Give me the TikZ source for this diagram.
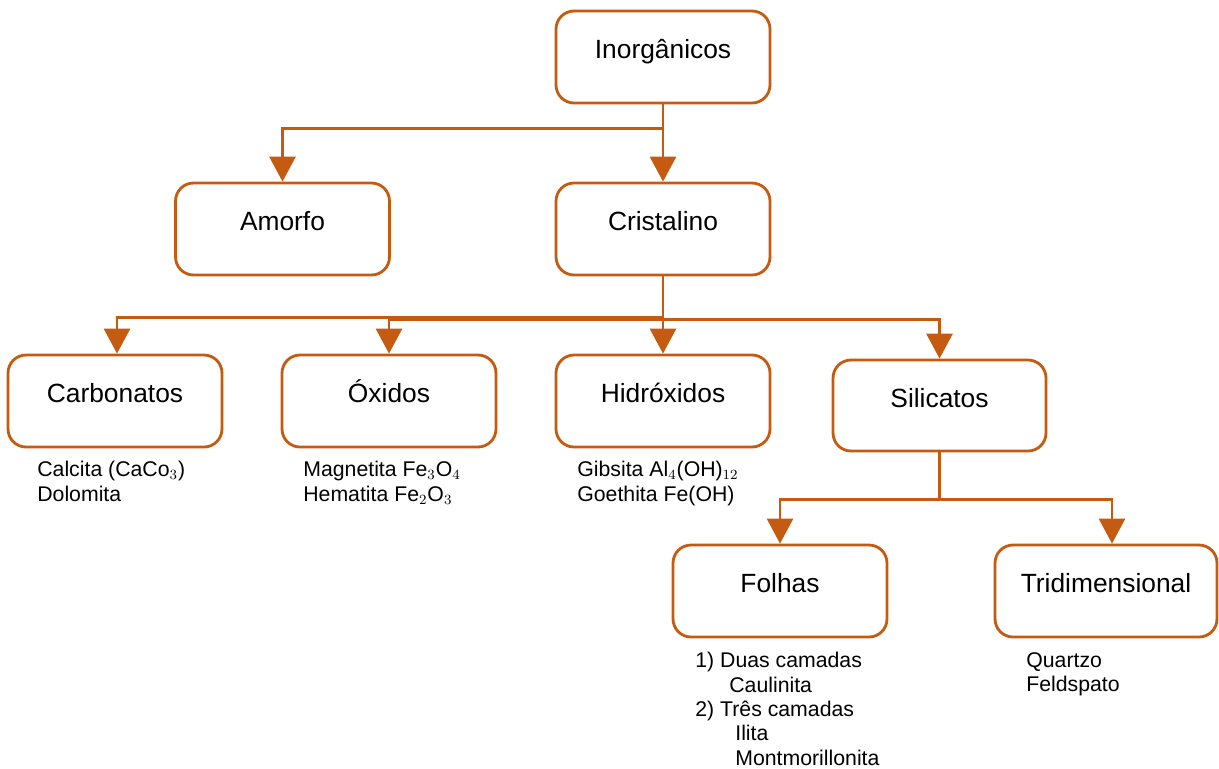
\documentclass[tikz,border=0pt]{standalone}
\usepackage{fontspec}
\setmainfont{Liberation Sans}
\usetikzlibrary{arrows.meta}
\definecolor{brd}{HTML}{C55A11}
\begin{document}
\begin{tikzpicture}[x=0.02cm,y=-0.02cm,
  box/.style={draw=brd,line width=1.6pt,rounded corners=0.36cm,fill=white,
    minimum width=4.28cm,minimum height=1.84cm,inner sep=0pt,
    font=\fontsize{15}{18}\selectfont,text height=0.75em,text depth=0.56em},
  conn/.style={draw=brd,line width=1.6pt,-{Triangle[width=0.52cm,length=0.5cm]}},
  sub/.style={anchor=north west,align=left,inner sep=0pt,
    font=\fontsize{12.1}{13.85}\selectfont}]
\useasboundingbox (0,0) rectangle (1219,768);
% boxes
\node[box] (inorg) at (663,57) {Inorgânicos};
\node[box] (amorfo) at (282.5,229) {Amorfo};
\node[box] (crist) at (663,229) {Cristalino};
\node[box] (carb) at (115,401) {Carbonatos};
\node[box] (oxid) at (389,401) {Óxidos};
\node[box] (hidr) at (663,401) {Hidróxidos};
\node[box,minimum width=4.26cm,minimum height=1.82cm] (sil) at (939.5,405.5) {Silicatos};
\node[box] (folhas) at (780,591) {Folhas};
\node[box,minimum width=4.44cm] (tri) at (1106,591) {Tridimensional};
% connectors
\draw[conn] (inorg.south) -- (crist.north);
\draw[conn] (inorg.south) -- ++(0,24) -| (amorfo.north);
\draw[conn] (crist.south) -- (hidr.north);
\draw[conn] (crist.south) -- ++(0,41) -| ([xshift=2*0.02cm]carb.north);
\draw[conn] (crist.south) -- ++(0,43) -| (oxid.north);
\draw[conn] (crist.south) -- ++(0,43) -| (sil.north);
\draw[conn] (sil.south) -- ++(0,47) -| (folhas.north);
\draw[conn] (sil.south) -- ++(0,47) -| ([xshift=6*0.02cm]tri.north);
% lists
\node[sub] (lcarb) at (37,461) {Calcita (CaCo$_{3}$)\\Dolomita};
\node[sub] (loxid) at (303,461) {Magnetita Fe$_{3}$O$_{4}$\\Hematita Fe$_{2}$O$_{3}$};
\node[sub] (lhidr) at (577,461) {Gibsita Al$_{4}$(OH)$_{12}$\\Goethita Fe(OH)};
\node[sub] (lfol) at (695,652) {1) Duas camadas\\\hspace*{0.68cm}Caulinita\\2) Três camadas\\\hspace*{0.8cm}Ilita\\\hspace*{0.8cm}Montmorillonita};
\node[sub] (ltri) at (1026,652) {Quartzo\\Feldspato};
\end{tikzpicture}
\end{document}
